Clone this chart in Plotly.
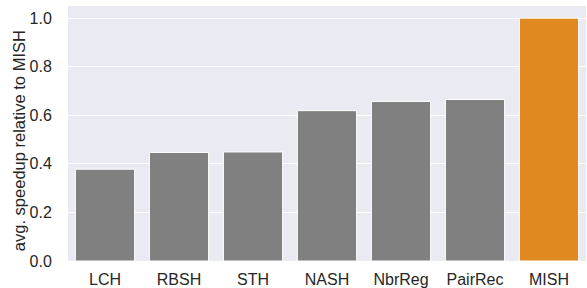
import plotly.graph_objects as go

methods = ["LCH", "RBSH", "STH", "NASH", "NbrReg", "PairRec", "MISH"]
speedup = [0.378, 0.447, 0.449, 0.619, 0.657, 0.665, 1.0]
colors = ["#808080"] * 6 + ["#DF8920"]
y_ticks = [0.0, 0.2, 0.4, 0.6, 0.8, 1.0]
y_tick_text = ["0.0", "0.2", "0.4", "0.6", "0.8", "1.0"]
y_title = "avg. speedup relative to MISH"

fig = go.Figure(go.Bar(
    x=methods, y=speedup,
    marker=dict(color=colors, line=dict(color="white", width=1)),
    width=0.8,
))
fig.update_layout(
    width=587, height=288,
    margin=dict(l=68, r=1, t=6, b=27),
    paper_bgcolor="white", plot_bgcolor="#EAEAF2",
    font=dict(family="Liberation Sans, Arial, sans-serif", size=16, color="#262626"),
    showlegend=False,
    bargap=0.2,
)
fig.update_xaxes(showgrid=False, ticks="outside", ticklen=4, tickcolor="rgba(0,0,0,0)",
                 zeroline=False, showline=False, automargin=False,
                 range=[-0.5, 6.5], tickfont=dict(size=16))
fig.update_yaxes(range=[0, 1.05], tickvals=y_ticks, ticktext=y_tick_text,
                 gridcolor="white", gridwidth=1.3, zeroline=False, showline=False,
                 ticks="outside", ticklen=12, tickcolor="rgba(0,0,0,0)",
                 automargin=False, tickfont=dict(size=16))
fig.add_annotation(text=y_title, textangle=-90, xref="paper", yref="paper",
                   x=(19 - 68) / 518, y=0.47, xanchor="center", yanchor="middle",
                   showarrow=False, font=dict(size=16.5, color="#262626"))
fig.write_html("out.html", config={"displayModeBar": False},
               post_script="document.body.style.margin='0';document.body.style.padding='0';")
